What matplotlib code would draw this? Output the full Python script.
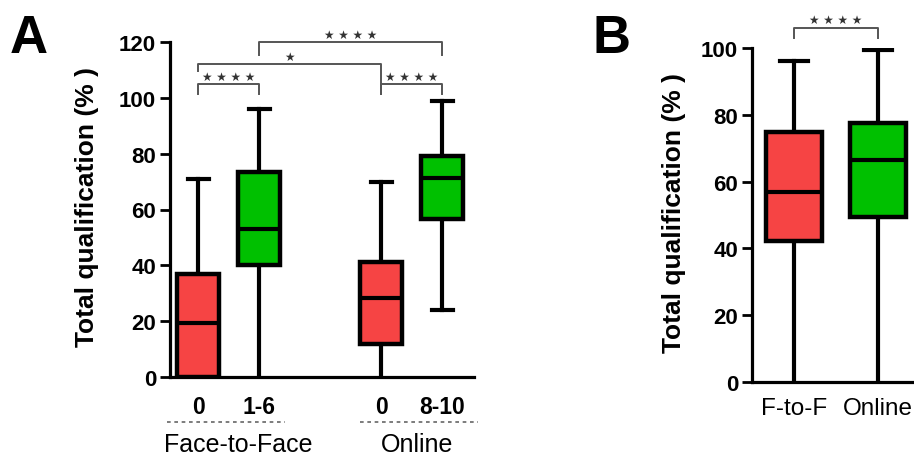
import matplotlib
matplotlib.use("Agg")
import matplotlib.pyplot as plt
import matplotlib.transforms as mtransforms

plt.rcParams['font.family'] = ['Liberation Sans', 'DejaVu Sans']

# Panel A: quartiles
a_pos = [1, 2, 4, 5]
a_ticks = ['0', '1-6', '0', '8-10']
a_whislo = [0, 0, 0, 24]
a_q1 = [0, 40, 12, 56.5]
a_med = [19.3, 53, 28.3, 71.3]
a_q3 = [37, 73.5, 41.2, 79.2]
a_whishi = [71, 96, 70, 99]
a_colors = ['#f64444', '#00c000', '#f64444', '#00c000']
a_groups = ['Face-to-Face', 'Online']

# significance brackets panel A: (x1, x2, y_line, y_left_end, y_right_end, label)
a_sig = [(1, 2, 105, 101.5, 101.5, '****'),
         (4, 5, 105, 101.5, 101.5, '****'),
         (1, 4, 112, 109.5, 101.5, '*'),
         (2, 5, 120, 115.5, 115.5, '****')]

# Panel B
b_pos = [1, 2]
b_ticks = ['F-to-F', 'Online']
b_whislo = [0, 0]
b_q1 = [42.2, 49.4]
b_med = [56.9, 66.5]
b_q3 = [74.8, 77.5]
b_whishi = [96, 99.4]
b_colors = ['#f64444', '#00c000']
b_sig = [(1, 2, 106, 103, 103, '****')]


def make_stats(lo, q1, med, q3, hi):
    return [dict(whislo=a, q1=b, med=c, q3=d, whishi=e, fliers=[])
            for a, b, c, d, e in zip(lo, q1, med, q3, hi)]


def draw_boxes(ax, stats, pos, colors, width):
    bp = ax.bxp(stats, positions=pos, widths=width, patch_artist=True,
                showfliers=False, capwidths=width * 0.5,
                boxprops=dict(linewidth=3.2, edgecolor='black'),
                whiskerprops=dict(linewidth=3.0, color='black'),
                capprops=dict(linewidth=3.0, color='black'),
                medianprops=dict(linewidth=3.0, color='black'))
    for patch, c in zip(bp['boxes'], colors):
        patch.set_facecolor(c)
    for w in bp['whiskers']:
        w.set_zorder(1)
    # caps sitting on zero are hidden behind the axis in the original
    for cap in bp['caps']:
        if cap.get_ydata()[0] == 0:
            cap.set_visible(False)


def draw_sig(ax, sigs):
    for x1, x2, y, yl, yr, lab in sigs:
        ax.plot([x1, x1, x2, x2], [yl, y, y, yr], color='#555555', lw=1.4,
                clip_on=False)
        txt = ' '.join('\u2605' * len(lab))
        ax.text((x1 + x2) / 2, y + 0.5, txt, ha='center', va='bottom',
                fontsize=8.5, color='#333333', family='DejaVu Sans')


def style_axis(ax):
    for s in ['top', 'right']:
        ax.spines[s].set_visible(False)
    for s in ['left', 'bottom']:
        ax.spines[s].set_linewidth(2.3)
    ax.tick_params(axis='y', length=7, width=2.0, pad=3, labelsize=16)
    ax.tick_params(axis='x', length=0)
    for t in ax.get_yticklabels():
        t.set_fontweight('bold')


fig = plt.figure(figsize=(9.14, 4.56), dpi=100)

# ---- Panel A
axA = fig.add_axes([170 / 914, 1 - 378 / 456, 304 / 914, 335 / 456])
draw_boxes(axA, make_stats(a_whislo, a_q1, a_med, a_q3, a_whishi), a_pos, a_colors, 0.69)
axA.set_xlim(0.54, 5.52)
axA.set_ylim(0, 120)
axA.set_yticks([0, 20, 40, 60, 80, 100, 120])
axA.set_xticks(a_pos)
axA.set_xticklabels(a_ticks, fontsize=16.5, fontweight='bold')
axA.tick_params(axis='x', pad=13)
style_axis(axA)
axA.set_ylabel('Total qualification (% )', fontsize=19, fontweight='bold')
axA.yaxis.set_label_coords(-0.235, 0.51)
draw_sig(axA, a_sig)

trA = mtransforms.blended_transform_factory(axA.transData, axA.transAxes)
axA.plot([0.49, 2.43], [-0.134, -0.134], transform=trA, clip_on=False,
         color='#666666', lw=1.2, linestyle=(0, (2.2, 2.2)))
axA.plot([3.66, 5.59], [-0.134, -0.134], transform=trA, clip_on=False,
         color='#666666', lw=1.2, linestyle=(0, (2.2, 2.2)))
axA.text(1.65, -0.2, a_groups[0], transform=trA, ha='center', va='center',
         fontsize=18)
axA.text(4.58, -0.2, a_groups[1], transform=trA, ha='center', va='center',
         fontsize=18)

# ---- Panel B
axB = fig.add_axes([752 / 914, 1 - 383 / 456, 162 / 914, 334 / 456])
draw_boxes(axB, make_stats(b_whislo, b_q1, b_med, b_q3, b_whishi), b_pos, b_colors, 0.67)
axB.set_xlim(0.5, 2.43)
axB.set_ylim(0, 100)
axB.set_yticks([0, 20, 40, 60, 80, 100])
axB.set_xticks(b_pos)
axB.set_xticklabels(b_ticks, fontsize=17.5)
axB.tick_params(axis='x', pad=11)
style_axis(axB)
axB.spines['bottom'].set_bounds(0.5, 2.43)
axB.set_ylabel('Total qualification (% )', fontsize=19, fontweight='bold')
axB.yaxis.set_label_coords(-0.41, 0.51)
draw_sig(axB, b_sig)

fig.text(10 / 914, 1 - 53 / 456, 'A', fontsize=38, fontweight='bold', va='baseline')
fig.text(592 / 914, 1 - 53 / 456, 'B', fontsize=38, fontweight='bold', va='baseline')

fig.savefig('out.png', dpi=100)
